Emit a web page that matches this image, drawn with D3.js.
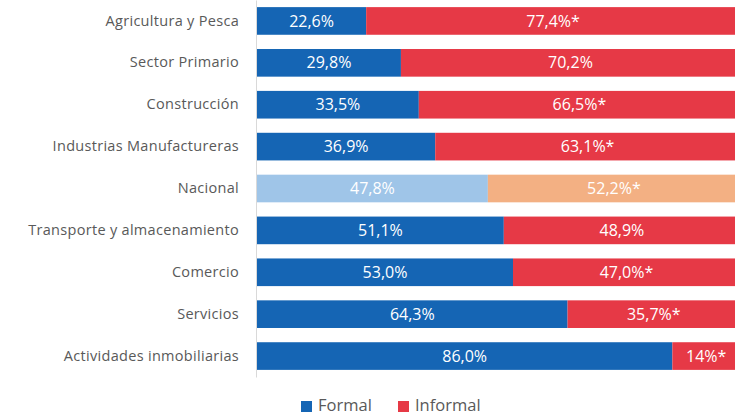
<!DOCTYPE html>
<html><head><meta charset="utf-8">
<script src="https://cdn.jsdelivr.net/npm/d3@7"></script>
<style>body{margin:0;background:#fff;overflow:hidden}svg{display:block}</style>
</head><body><svg id="c" width="735" height="415"></svg>
<script>
const categories = ["Agricultura y Pesca","Sector Primario","Construcción","Industrias Manufactureras","Nacional","Transporte y almacenamiento","Comercio","Servicios","Actividades inmobiliarias"];
const formal = [22.6,29.8,33.5,36.9,47.8,51.1,53.0,64.3,86.0];
const informal = [77.4,70.2,66.5,63.1,52.2,48.9,47.0,35.7,14.0];
const formalLabels = ["22,6%","29,8%","33,5%","36,9%","47,8%","51,1%","53,0%","64,3%","86,0%"];
const informalLabels = ["77,4%*","70,2%","66,5%*","63,1%*","52,2%*","48,9%","47,0%*","35,7%*","14%*"];
const highlight = "Nacional";
const seriesNames = ["Formal","Informal"];

const svg = d3.select("#c");
const x = d3.scaleLinear().domain([0,100]).range([257,740]);
const y = d3.scaleBand().domain(categories).range([0,377]).paddingInner(0.34).paddingOuter(0.17);
const col = {Formal:"#1565b4", Informal:"#e63946"};
const colHi = {Formal:"#9fc5e8", Informal:"#f3b083"};
const font = "'Open Sans', sans-serif";

const rows = categories.map((c,i)=>({c, f:formal[i], inf:informal[i], fl:formalLabels[i], il:informalLabels[i]}));

const g = svg.append("g");
rows.forEach(r=>{
  const hi = r.c===highlight;
  const yy = y(r.c), h = y.bandwidth();
  g.append("rect").attr("x",x(0)).attr("y",yy).attr("width",x(r.f)-x(0)).attr("height",h)
    .attr("fill",hi?colHi.Formal:col.Formal);
  g.append("rect").attr("x",x(r.f)).attr("y",yy).attr("width",x(r.f+r.inf)-x(r.f)).attr("height",h)
    .attr("fill",hi?colHi.Informal:col.Informal);
  g.append("text").attr("x",(x(0)+x(r.f))/2).attr("y",yy+h/2).attr("dy","0.35em")
    .attr("text-anchor","middle").attr("fill","#fff").attr("font-family",font).attr("font-size",16).text(r.fl);
  g.append("text").attr("x",(x(r.f)+x(r.f+r.inf))/2).attr("y",yy+h/2).attr("dy","0.35em")
    .attr("text-anchor","middle").attr("fill","#fff").attr("font-family",font).attr("font-size",16).text(r.il);
});

// axis
const ax = d3.axisLeft(y).tickSize(0).tickPadding(17);
const axg = svg.append("g").attr("transform",`translate(${x(0)-1},0)`).call(ax);
axg.select(".domain").attr("stroke","#d9d9d9").attr("stroke-width",1);
axg.selectAll("text").attr("font-family",font).attr("font-size",14.5).attr("fill","#595959").attr("letter-spacing","0.3px");

// legend
const leg = svg.append("g").attr("transform","translate(301,400)");
const lx = [0, 97];
seriesNames.forEach((s,i)=>{
  leg.append("rect").attr("x",lx[i]).attr("y",1).attr("width",11).attr("height",11).attr("fill",col[s]);
  leg.append("text").attr("x",lx[i]+17).attr("y",11).attr("font-family",font).attr("font-size",16.5).attr("fill","#595959").text(s);
});
</script></body></html>
